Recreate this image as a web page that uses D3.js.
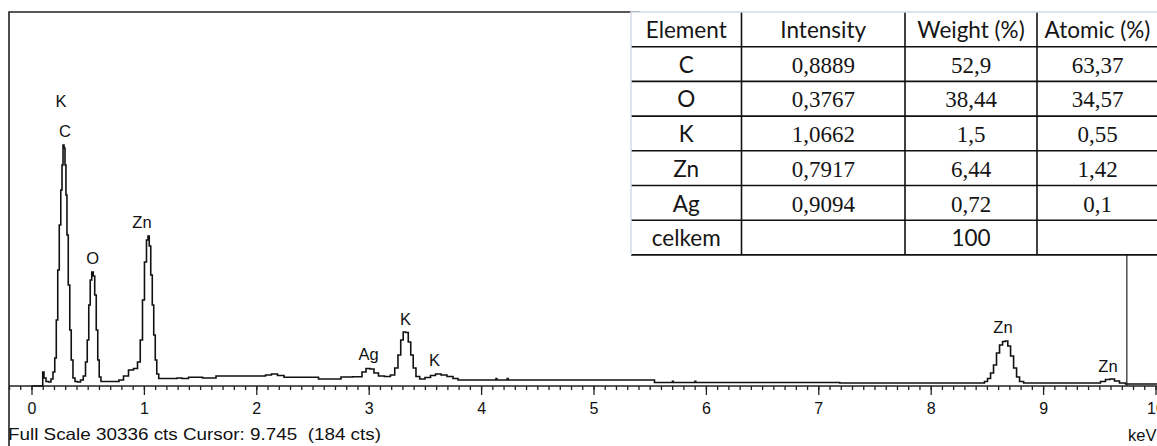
<!DOCTYPE html>
<html>
<head>
<meta charset="utf-8">
<script src="https://cdn.jsdelivr.net/npm/d3@7"></script>
<style>
  body { margin: 0; background: #fff; }
  svg { display: block; }
</style>
</head>
<body>
<div id="chart"></div>
<script>
// EDS spectrum, [keV, counts]
const spectrum = [
  [0.000, 0], [0.098, 0], [0.102, 1136], [0.120, 649], [0.138, 365], [0.165, 324],
  [0.182, 568], [0.200, 1136], [0.214, 2271], [0.227, 5353], [0.240, 9409],
  [0.254, 13059], [0.267, 15898], [0.276, 17925], [0.285, 19548], [0.294, 19304],
  [0.302, 17925], [0.311, 15492], [0.320, 12248], [0.334, 8192], [0.347, 4542],
  [0.360, 2109], [0.378, 649], [0.396, 365], [0.423, 324], [0.449, 487],
  [0.472, 811], [0.489, 1947], [0.503, 3731], [0.516, 6570], [0.529, 8598],
  [0.543, 9247], [0.556, 8922], [0.569, 7381], [0.583, 4542], [0.596, 2109],
  [0.609, 730], [0.627, 365], [0.761, 365], [0.796, 487], [0.841, 811],
  [0.885, 1298], [0.930, 1419], [0.956, 1947], [0.979, 3731], [0.996, 6975],
  [1.014, 10058], [1.032, 11842], [1.041, 12167], [1.054, 11355], [1.068, 9003],
  [1.081, 6570], [1.094, 4137], [1.108, 2109], [1.121, 973], [1.143, 608],
  [1.277, 608], [1.312, 649], [1.366, 608], [1.428, 706], [1.499, 706],
  [1.544, 649], [1.739, 811], [2.060, 811], [2.104, 892], [2.166, 973],
  [2.211, 852], [2.282, 706], [2.540, 706], [2.567, 568], [2.718, 568],
  [2.789, 730], [2.923, 754], [2.958, 1136], [2.994, 1419], [3.029, 1379],
  [3.065, 1054], [3.109, 811], [3.171, 771], [3.216, 892], [3.247, 1460],
  [3.274, 2514], [3.296, 3731], [3.318, 4380], [3.341, 4339], [3.363, 3569],
  [3.385, 2514], [3.407, 1460], [3.434, 771], [3.474, 568], [3.528, 689],
  [3.572, 852], [3.617, 973], [3.670, 892], [3.723, 771], [3.777, 608],
  [3.812, 487], [4.130, 487], [4.135, 600], [4.145, 487], [4.230, 487],
  [4.235, 600], [4.245, 487], [5.529, 487], [5.556, 284], [5.700, 284],
  [5.705, 380], [5.715, 284], [5.900, 284], [5.905, 380], [5.915, 284],
  [8.465, 243], [8.492, 365], [8.519, 608], [8.546, 1054], [8.572, 1703],
  [8.599, 2677], [8.626, 3326], [8.653, 3609], [8.675, 3650], [8.697, 3244],
  [8.724, 2433], [8.751, 1460], [8.777, 730], [8.804, 365], [8.849, 243],
  [9.488, 243], [9.533, 365], [9.577, 527], [9.613, 568], [9.657, 406],
  [9.702, 243], [9.765, 162], [10.013, 162]
];

// peak labels: text, keV, label baseline (counts)
const peakNames = ['K', 'C', 'O', 'Zn', 'Ag', 'K', 'K', 'Zn', 'Zn'];
const peakKeV = [0.262, 0.298, 0.545, 0.983, 2.998, 3.327, 3.585, 8.643, 9.577];
const peakLabelCts = [22654, 20196, 9936, 12856, 2149, 4948, 1647, 4323, 1160];

const fullScale = 30336;
const cursorKeV = 9.745;
const cursorCts = 184;

// quant table
const tableHeader = ['Element', 'Intensity', 'Weight (%)', 'Atomic (%)'];
const elements = ['C', 'O', 'K', 'Zn', 'Ag', 'celkem'];
const intensity = ['0,8889', '0,3767', '1,0662', '0,7917', '0,9094', ''];
const weightPct = ['52,9', '38,44', '1,5', '6,44', '0,72', '100'];
const atomicPct = ['63,37', '34,57', '0,55', '1,42', '0,1', ''];

const width = 1157, height = 446;
const frameLeft = 9, frameTop = 12, axisY = 386;
const sansFont = '"Liberation Sans", Arial, sans-serif';

const svg = d3.select('#chart').append('svg')
    .attr('width', width)
    .attr('height', height)
    .style('font-family', sansFont);

const x = d3.scaleLinear().domain([0, 10]).range([31.5, 1155.5]);
const y = d3.scaleLinear().domain([0, fullScale]).range([axisY, frameTop]);

// frame
svg.append('path')
    .attr('d', 'M' + frameLeft + ',' + height + 'V' + frameTop + 'H' + 640)
    .attr('fill', 'none')
    .attr('stroke', '#222')
    .attr('stroke-width', 1.6);

// axis
const minorTicks = d3.range(-2, 101).map(function(d) { return d / 10; });
svg.append('g')
    .attr('transform', 'translate(0,' + axisY + ')')
    .call(d3.axisBottom(x).tickValues(minorTicks).tickSize(4).tickFormat(''))
    .call(function(g) { g.select('.domain').remove(); });

const major = svg.append('g')
    .attr('transform', 'translate(0,' + axisY + ')')
    .call(d3.axisBottom(x).tickValues(d3.range(0, 11)).tickSize(9).tickPadding(7.5).tickFormat(d3.format('d')))
    .call(function(g) { g.select('.domain').remove(); });
major.attr('font-family', null).attr('font-size', null);
major.selectAll('text')
    .style('font-family', sansFont)
    .style('font-size', '16px')
    .attr('fill', '#111');
svg.selectAll('.tick line').attr('stroke', '#222').attr('stroke-width', 1.3);

svg.append('line')
    .attr('x1', frameLeft).attr('x2', width)
    .attr('y1', axisY).attr('y2', axisY)
    .attr('stroke', '#222')
    .attr('stroke-width', 1.6);

// cursor
svg.append('line')
    .attr('x1', x(cursorKeV)).attr('x2', x(cursorKeV))
    .attr('y1', y(fullScale)).attr('y2', y(0))
    .attr('stroke', '#222')
    .attr('stroke-width', 1.2);

// spectrum
const line = d3.line()
    .x(function(d) { return x(d[0]); })
    .y(function(d) { return y(d[1]); })
    .curve(d3.curveStep);

svg.append('path')
    .datum(spectrum)
    .attr('d', line)
    .attr('fill', 'none')
    .attr('stroke', '#111')
    .attr('stroke-width', 1.6);

// peak labels
svg.selectAll('.peak')
    .data(peakNames)
    .enter().append('text')
    .attr('class', 'peak')
    .attr('x', function(d, i) { return x(peakKeV[i]); })
    .attr('y', function(d, i) { return y(peakLabelCts[i]); })
    .attr('text-anchor', 'middle')
    .style('font-size', '16.5px')
    .attr('fill', '#111')
    .text(function(d) { return d; });

// bottom status texts
svg.append('text')
    .attr('x', 8).attr('y', 440)
    .attr('textLength', 373)
    .attr('lengthAdjust', 'spacingAndGlyphs')
    .style('font-size', '16.5px')
    .style('white-space', 'pre')
    .attr('fill', '#111')
    .text('Full Scale ' + fullScale + ' cts Cursor: ' + cursorKeV + '  (' + cursorCts + ' cts)');

svg.append('text')
    .attr('x', 1128).attr('y', 441)
    .style('font-size', '16.5px')
    .attr('fill', '#111')
    .text('keV');

// table
const colEdges = [631, 741.5, 905, 1037, 1158];
const rowTop = 12, rowH = 34.7;
const rows = [tableHeader].concat(elements.map(function(e, i) {
    return [e, intensity[i], weightPct[i], atomicPct[i]];
}));
const tableBottom = rowTop + rowH * rows.length;

const table = svg.append('g');
table.append('rect')
    .attr('x', colEdges[0]).attr('y', rowTop)
    .attr('width', width - colEdges[0]).attr('height', tableBottom - rowTop)
    .attr('fill', '#fff');

rows.forEach(function(r, ri) {
    r.forEach(function(val, ci) {
        const serif = ri > 0 && (ci === 1 || (ci > 1 && ri < rows.length - 1));
        table.append('text')
            .attr('x', (colEdges[ci] + colEdges[ci + 1]) / 2)
            .attr('y', rowTop + rowH * ri + 26)
            .attr('text-anchor', 'middle')
            .style('font-family', serif ? '"Liberation Serif", "Times New Roman", serif' : 'Lato, "Open Sans", sans-serif')
            .style('font-size', serif ? '23px' : '22.5px')
            .attr('fill', '#151515')
            .text(val);
    });
});

// inner grid lines
d3.range(1, rows.length + 1).forEach(function(i) {
    table.append('line')
        .attr('x1', colEdges[0]).attr('x2', width)
        .attr('y1', rowTop + rowH * i).attr('y2', rowTop + rowH * i)
        .attr('stroke', '#111').attr('stroke-width', 1.6);
});
colEdges.slice(1, 4).forEach(function(cx) {
    table.append('line')
        .attr('x1', cx).attr('x2', cx)
        .attr('y1', rowTop).attr('y2', tableBottom)
        .attr('stroke', '#111').attr('stroke-width', 1.6);
});
// light outer border
table.append('path')
    .attr('d', 'M' + colEdges[0] + ',' + tableBottom + 'V' + rowTop + 'H' + width)
    .attr('fill', 'none')
    .attr('stroke', '#d4dbe6')
    .attr('stroke-width', 1.5);
</script>
</body>
</html>
